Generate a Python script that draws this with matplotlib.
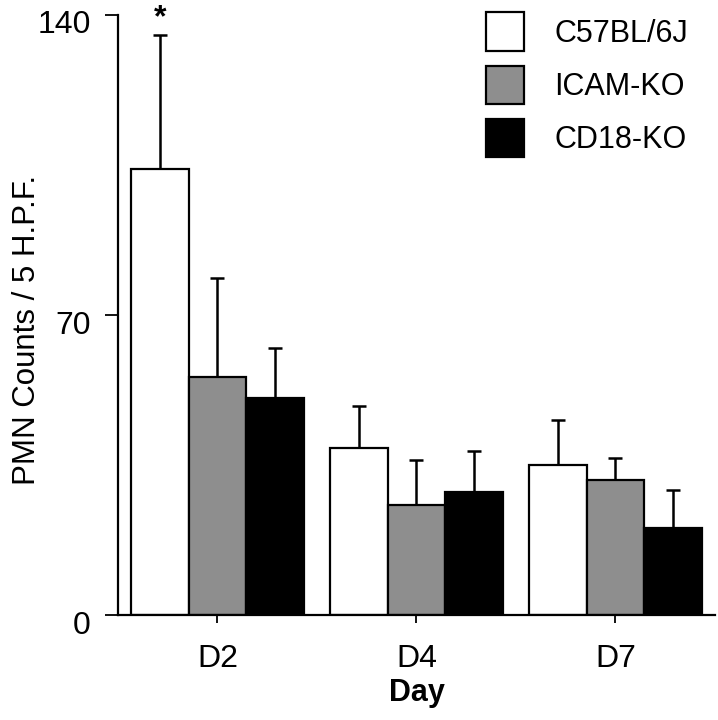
import matplotlib
matplotlib.use('Agg')
import matplotlib.pyplot as plt
import matplotlib.transforms as mtrans
import numpy as np

# Data
days = ['D2', 'D4', 'D7']
strains = ['C57BL/6J', 'ICAM-KO', 'CD18-KO']
c57_mean = [104.0, 38.9, 35.1]
c57_err = [31.4, 9.9, 10.5]
icam_mean = [55.6, 25.6, 31.5]
icam_err = [23.0, 10.5, 5.1]
cd18_mean = [50.6, 28.7, 20.2]
cd18_err = [11.6, 9.5, 9.0]

plt.rcParams['font.family'] = ['Liberation Sans', 'DejaVu Sans']

fig = plt.figure(figsize=(7.18, 7.2), dpi=100)
ax = fig.add_axes([0.1643, 0.1458, 0.8315, 0.8334])

x = np.arange(len(days))
w = 0.289
colors = ['white', '#8e8e8e', 'black']
series = [(c57_mean, c57_err), (icam_mean, icam_err), (cd18_mean, cd18_err)]
for i, ((m, e), col, name) in enumerate(zip(series, colors, strains)):
    pos = x + (i - 1) * w
    ax.bar(pos, m, width=w, color=col, edgecolor='black', linewidth=1.6,
           label=name, zorder=2)
    ax.errorbar(pos, m, yerr=[np.zeros(len(m)), e], fmt='none', ecolor='black',
                elinewidth=1.8, capsize=5, capthick=1.8, zorder=1)

# significance marker
ax.text(x[0] - w, 135.8, '*', ha='center', va='bottom', fontsize=23,
        fontweight='bold', clip_on=False)

ax.set_xlim(-0.5, 2.5)
ax.set_ylim(0, 140)
ax.set_yticks([0, 70, 140])
ax.set_xticks(x)
ax.set_xticklabels(days)
ax.tick_params(axis='y', length=9.5, width=1.3, labelsize=23, pad=10)
ax.tick_params(axis='x', length=6, width=1.3, labelsize=23, pad=15)
ax.spines['top'].set_visible(False)
ax.spines['right'].set_visible(False)
ax.spines['left'].set_linewidth(1.6)
ax.spines['bottom'].set_linewidth(1.6)

# y tick labels sit a little below their ticks in the original
shift = mtrans.ScaledTranslation(0, -7 / 100, fig.dpi_scale_trans)
for lab in ax.get_yticklabels():
    lab.set_transform(lab.get_transform() + shift)

ax.set_xlabel('Day', fontsize=22, fontweight='bold', labelpad=3)
ax.set_ylabel('PMN Counts / 5 H.P.F.', fontsize=22.5, labelpad=12)
ax.yaxis.set_label_coords(-0.128, 0.475)

ax.legend(loc='upper right', bbox_to_anchor=(1.001, 1.05), frameon=False,
          fontsize=22, handlelength=1.25, handleheight=1.55,
          handletextpad=1.0, labelspacing=0.49)

fig.savefig('out.png', dpi=100)
